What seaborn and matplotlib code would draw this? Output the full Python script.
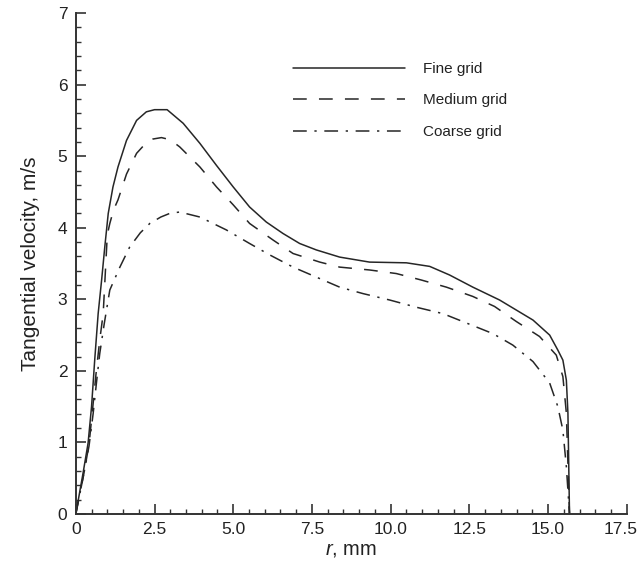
import matplotlib
matplotlib.use("Agg")
import matplotlib.pyplot as plt
import matplotlib.transforms as mtransforms
import seaborn as sns
import numpy as np
from matplotlib.ticker import MultipleLocator

# ---- data ----
fine_r = [0.0, 0.23, 0.39, 0.50, 0.60, 0.71, 0.82, 0.92, 1.03, 1.18, 1.34, 1.61, 1.93, 2.24, 2.5, 2.9,
          3.41, 3.94, 4.47, 5.0, 5.52, 6.05, 6.58, 7.11, 7.64, 8.38, 9.33, 10.5, 11.24, 11.87, 12.61,
          13.46, 14.52, 15.05, 15.31, 15.47, 15.58, 15.63, 15.68]
fine_v = [0.0, 0.57, 0.99, 1.50, 2.15, 2.80, 3.27, 3.73, 4.20, 4.57, 4.85, 5.22, 5.50, 5.62, 5.65, 5.65,
          5.46, 5.18, 4.87, 4.57, 4.29, 4.08, 3.92, 3.78, 3.69, 3.59, 3.52, 3.51, 3.46, 3.34, 3.17,
          2.99, 2.71, 2.50, 2.29, 2.15, 1.87, 1.41, 0.0]

medium_r = [0.0, 0.25, 0.42, 0.53, 0.64, 0.76, 0.87, 1.0, 1.08, 1.2, 1.34, 1.61, 1.93, 2.2, 2.45, 2.72,
            3.0, 3.30, 3.94, 4.47, 5.0, 5.52, 6.26, 6.90, 7.75, 8.38, 9.33, 10.18, 10.97, 11.77, 12.61,
            13.30, 13.99, 14.73, 15.26, 15.47, 15.58, 15.68]
medium_v = [0.0, 0.55, 0.97, 1.45, 1.95, 2.43, 2.80, 3.90, 4.06, 4.25, 4.39, 4.75, 5.04, 5.17, 5.24, 5.26,
            5.23, 5.13, 4.85, 4.57, 4.32, 4.06, 3.83, 3.64, 3.52, 3.45, 3.41, 3.36, 3.27, 3.17, 3.04,
            2.90, 2.69, 2.48, 2.22, 1.92, 1.41, 0.0]

coarse_r = [0.0, 0.25, 0.42, 0.55, 0.66, 0.76, 0.9, 1.08, 1.40, 1.71, 2.05, 2.35, 2.7, 2.98, 3.3, 3.94,
            4.78, 5.52, 6.16, 6.90, 7.64, 8.38, 9.12, 9.97, 10.81, 11.66, 12.40, 13.25, 13.88, 14.52,
            15.05, 15.31, 15.47, 15.58, 15.68]
coarse_v = [0.0, 0.55, 0.95, 1.40, 1.85, 2.24, 2.65, 3.13, 3.45, 3.73, 3.93, 4.06, 4.15, 4.20, 4.22, 4.15,
            3.97, 3.78, 3.62, 3.45, 3.31, 3.17, 3.08, 2.99, 2.89, 2.80, 2.67, 2.52, 2.36, 2.13,
            1.83, 1.50, 1.17, 0.66, 0.0]

labels = ["Fine grid", "Medium grid", "Coarse grid"]
x_ticks = [0, 2.5, 5.0, 7.5, 10.0, 12.5, 15.0, 17.5]
x_ticklabels = ["0", "2.5", "5.0", "7.5", "10.0", "12.5", "15.0", "17.5"]
y_ticks = [0, 1, 2, 3, 4, 5, 6, 7]

sns.set_theme(style="white")
plt.rcParams['font.family'] = ['Liberation Sans', 'DejaVu Sans']
plt.rcParams['mathtext.fontset'] = 'custom'
plt.rcParams['mathtext.it'] = 'Liberation Sans:italic'
plt.rcParams['mathtext.rm'] = 'Liberation Sans'

fig = plt.figure(figsize=(6.37, 5.69), dpi=100)
ax = fig.add_axes([0.119, 0.0967, 0.865, 0.8803])

col = "#262626"
styles = ["-", (0, (9, 8)), (0, (9, 5, 1.5, 5))]
for r, v, lab, ls in zip([fine_r, medium_r, coarse_r], [fine_v, medium_v, coarse_v], labels, styles):
    sns.lineplot(x=r, y=v, ax=ax, sort=False, estimator=None, color=col,
                 linewidth=1.1, linestyle=ls, label=lab)

ax.set_xlim(0, 17.5)
ax.set_ylim(0, 7)
ax.set_xticks(x_ticks)
ax.set_xticklabels(x_ticklabels)
ax.set_yticks(y_ticks)
ax.xaxis.set_minor_locator(MultipleLocator(0.5))
ax.yaxis.set_minor_locator(MultipleLocator(0.2))
ax.tick_params(which="major", direction="in", length=7, width=1.2, color="#333333",
               labelsize=12.5, labelcolor="#222222", pad=6)
ax.tick_params(which="minor", direction="in", length=3.5, width=1.0, color="#333333")
ax.tick_params(axis="x", which="both", bottom=True, top=False)
ax.tick_params(axis="y", which="both", left=True, right=False)

# keep last x tick label inside the figure (as in the reference)
last = ax.get_xticklabels()[-1]
last.set_transform(last.get_transform() + mtransforms.ScaledTranslation(-6 / 100, 0, fig.dpi_scale_trans))

for s in ["top", "right"]:
    ax.spines[s].set_visible(False)
for s in ["left", "bottom"]:
    ax.spines[s].set_color("#333333")
    ax.spines[s].set_linewidth(1.4)

ax.set_xlabel("$r$, mm", fontsize=14.5, color="#222222", labelpad=2)
ax.set_ylabel("Tangential velocity, m/s", fontsize=15, color="#222222", labelpad=13)

leg = ax.legend(loc="upper left", bbox_to_anchor=(0.37, 0.93), frameon=False,
                handlelength=7.3, handletextpad=1.2, labelspacing=1.15, fontsize=11)
for t in leg.get_texts():
    t.set_color("#222222")

fig.savefig("out.png", dpi=100)
